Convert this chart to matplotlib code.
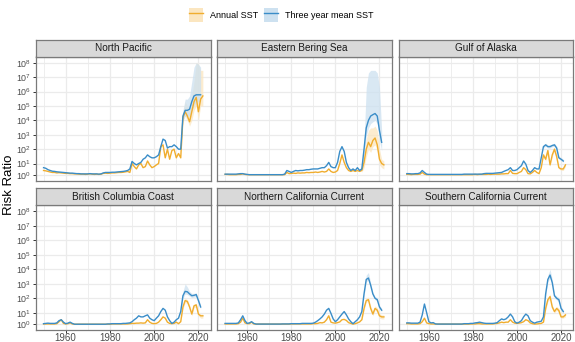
import numpy as np
import matplotlib
matplotlib.use("Agg")
import matplotlib.pyplot as plt
from matplotlib.patches import Rectangle
from matplotlib.lines import Line2D
from matplotlib.legend_handler import HandlerTuple

plt.rcParams['font.family'] = ['Liberation Sans', 'DejaVu Sans']
plt.rcParams['mathtext.fontset'] = 'custom'
plt.rcParams['mathtext.rm'] = 'Liberation Sans'
plt.rcParams['mathtext.it'] = 'Liberation Sans:italic'
plt.rcParams['mathtext.bf'] = 'Liberation Sans:bold'

# ---------------- data ----------------
regions = ["North Pacific", "Eastern Bering Sea", "Gulf of Alaska",
           "British Columbia Coast", "Northern California Current",
           "Southern California Current"]
series_names = ["Annual SST", "Three year mean SST"]
annual_years = np.arange(1950, 2023)
mean_years = np.arange(1950, 2022)
ribbon_years_annual = np.arange(2012, 2023)
ribbon_years_mean = np.arange(2012, 2022)

np_annual = [3.0, 2.8, 2.5, 2.2, 2.0, 2.0, 1.8, 1.9, 1.8, 1.7,
             1.6, 1.6, 1.5, 1.5, 1.4, 1.4, 1.3, 1.3, 1.3, 1.2,
             1.3, 1.4, 1.3, 1.2, 1.3, 1.2, 1.3, 1.6, 1.7, 1.6,
             1.7, 1.8, 1.8, 1.9, 2.0, 2.0, 2.1, 2.3, 2.5, 2.0,
             10, 6, 4, 8, 10, 5, 6, 15, 8, 5,
             6, 8, 10, 150, 200, 25, 100, 20, 80, 100,
             25, 50, 25, 1.5e4, 4e4, 2e4, 8e3, 4e4, 2e5, 4e5,
             4e4, 3e5, 5e5]
np_mean = [5, 4.5, 3.5, 3.0, 2.6, 2.5, 2.3, 2.2, 2.1, 2.0,
           1.9, 1.8, 1.7, 1.7, 1.6, 1.5, 1.5, 1.4, 1.4, 1.4,
           1.4, 1.5, 1.4, 1.4, 1.4, 1.3, 1.4, 1.8, 2.0, 2.0,
           2.0, 2.1, 2.1, 2.2, 2.3, 2.4, 2.5, 2.7, 3.0, 4.0,
           14, 10, 8, 10, 12, 20, 25, 40, 30, 25,
           25, 30, 40, 150, 500, 400, 120, 150, 150, 200,
           150, 100, 100, 2e4, 5e4, 5e4, 6e4, 2e5, 5e5, 6e5,
           6e5, 6e5]
np_annual_lo = [20, 1e4, 2e4, 1e4, 4e3, 1e4, 5e4, 1e5, 1e4, 1e5, 1e5]
np_annual_hi = [30, 3e4, 2e5, 1e5, 5e4, 5e5, 5e6, 1e8, 8e7, 3e7, 3e7]
np_mean_lo = [80, 1e4, 2e4, 2e4, 2e4, 5e4, 1e5, 2e5, 2e5, 2e5]
np_mean_hi = [150, 5e4, 3e5, 3e5, 5e5, 5e6, 5e7, 1e8, 8e7, 5e7]

ebs_annual = [1.2, 1.2, 1.1, 1.1, 1.1, 1.1, 1.2, 1.2, 1.4, 1.2,
              1.1, 1.1, 1.1, 1.1, 1.1, 1.1, 1.1, 1.1, 1.1, 1.1,
              1.1, 1.1, 1.1, 1.1, 1.1, 1.1, 1.1, 1.1, 2.0, 1.5,
              1.6, 1.7, 1.6, 1.8, 1.7, 1.8, 1.8, 2.0, 1.9, 2.0,
              2.0, 2.2, 2.0, 2.2, 2.5, 2.2, 2.5, 4.0, 2.5, 2.0,
              2.2, 3.0, 10, 40, 12, 5, 3, 2.5, 3, 2.5,
              3, 2.5, 3, 12, 100, 300, 150, 400, 600, 200,
              20, 10, 8]
ebs_mean = [1.3, 1.3, 1.3, 1.3, 1.3, 1.3, 1.4, 1.5, 1.5, 1.3,
            1.2, 1.1, 1.1, 1.1, 1.1, 1.1, 1.1, 1.1, 1.1, 1.1,
            1.1, 1.1, 1.1, 1.1, 1.1, 1.1, 1.1, 1.3, 3.0, 2.5,
            2.0, 2.5, 3.0, 2.8, 3.0, 3.0, 3.2, 3.5, 3.5, 3.8,
            4.0, 4.0, 4.0, 4.5, 5.0, 5.0, 7.0, 12, 6, 5.0,
            5.0, 12, 70, 150, 70, 12, 5, 3, 4, 3,
            5, 3, 4, 100, 3000, 1e4, 2e4, 2.5e4, 3e4, 2e4,
            2000, 300]
ebs_annual_lo = [2, 5, 30, 100, 60, 150, 200, 80, 8, 5, 4]
ebs_annual_hi = [4, 30, 500, 2000, 3000, 3000, 4000, 2000, 100, 20, 15]
ebs_mean_lo = [3, 40, 800, 3000, 6000, 8000, 1e4, 6000, 400, 80]
ebs_mean_hi = [6, 300, 2e6, 2e7, 3e7, 3e7, 3e7, 2e7, 2e6, 2000]

goa_annual = [1.2, 1.2, 1.1, 1.2, 1.2, 1.2, 1.3, 2.0, 1.3, 1.1,
              1.1, 1.1, 1.1, 1.1, 1.1, 1.1, 1.1, 1.1, 1.1, 1.1,
              1.1, 1.1, 1.1, 1.1, 1.1, 1.1, 1.1, 1.1, 1.1, 1.1,
              1.1, 1.2, 1.1, 1.2, 1.2, 1.2, 1.2, 1.3, 1.2, 1.3,
              1.3, 1.3, 1.3, 1.4, 1.4, 1.5, 1.5, 3.0, 1.6, 1.5,
              1.5, 2.0, 2.5, 5.0, 3.5, 1.5, 1.4, 2.0, 3.0, 2.0,
              1.5, 5.0, 40, 20, 80, 8, 40, 100, 30, 5,
              4, 4, 8]
goa_mean = [1.5, 1.5, 1.4, 1.4, 1.5, 1.5, 1.8, 3.0, 2.0, 1.3,
            1.2, 1.2, 1.2, 1.2, 1.2, 1.2, 1.2, 1.2, 1.2, 1.2,
            1.2, 1.2, 1.2, 1.2, 1.2, 1.2, 1.3, 1.3, 1.3, 1.3,
            1.3, 1.3, 1.3, 1.3, 1.3, 1.5, 1.6, 1.6, 1.6, 1.6,
            1.7, 1.8, 1.9, 2.0, 2.5, 3.0, 3.5, 5.0, 3.0, 3.0,
            3.5, 5.0, 7.0, 15, 9, 3.0, 2.0, 3.0, 5.0, 4.0,
            4.0, 25, 150, 200, 150, 150, 180, 200, 120, 25,
            20, 15]
goa_annual_lo = [30, 15, 60, 6, 30, 80, 20, 4, 3, 3, 6]
goa_annual_hi = [50, 25, 100, 10, 50, 150, 40, 6, 5, 5, 10]
goa_mean_lo = [120, 160, 120, 120, 150, 160, 100, 20, 16, 12]
goa_mean_hi = [200, 260, 200, 200, 230, 260, 160, 32, 26, 20]

bcc_annual = [1.1, 1.1, 1.1, 1.1, 1.1, 1.1, 1.2, 2.0, 3.0, 1.3,
              1.1, 1.2, 1.5, 1.1, 1.0, 1.0, 1.0, 1.0, 1.0, 1.0,
              1.0, 1.0, 1.0, 1.0, 1.0, 1.0, 1.0, 1.0, 1.0, 1.0,
              1.0, 1.1, 1.1, 1.1, 1.1, 1.1, 1.1, 1.1, 1.1, 1.2,
              1.3, 1.3, 1.4, 1.4, 1.5, 1.4, 1.5, 3.0, 1.8, 1.3,
              1.2, 1.3, 1.8, 3.0, 5.0, 4.0, 1.8, 1.3, 1.2, 1.3,
              1.8, 1.2, 2.0, 25, 70, 60, 25, 8, 30, 35,
              8, 6, 6]
bcc_mean = [1.2, 1.3, 1.4, 1.3, 1.3, 1.3, 1.5, 2.5, 3.0, 1.8,
            1.2, 1.4, 1.8, 1.3, 1.0, 1.0, 1.0, 1.0, 1.0, 1.0,
            1.0, 1.0, 1.0, 1.0, 1.0, 1.0, 1.0, 1.0, 1.0, 1.1,
            1.1, 1.2, 1.2, 1.2, 1.2, 1.2, 1.3, 1.3, 1.4, 1.5,
            2.0, 3.0, 4.0, 6.0, 5.0, 5.0, 6.0, 7.0, 4.0, 3.0,
            2.5, 4.0, 6.0, 12, 20, 15, 5, 2.5, 1.3, 1.8,
            3.0, 4.0, 12, 150, 300, 280, 200, 150, 160, 180,
            70, 25]
bcc_annual_lo = [1.8, 18, 50, 45, 18, 6, 22, 25, 6, 4, 4]
bcc_annual_hi = [2.2, 35, 100, 80, 35, 10, 40, 45, 10, 8, 8]
bcc_mean_lo = [10, 100, 200, 180, 140, 110, 120, 130, 50, 18]
bcc_mean_hi = [15, 300, 1000, 600, 300, 220, 220, 240, 100, 35]

ncc_annual = [1.1, 1.1, 1.1, 1.1, 1.1, 1.1, 1.2, 1.8, 4.0, 1.5,
              1.2, 1.2, 1.8, 1.1, 1.05, 1.05, 1.05, 1.05, 1.05, 1.05,
              1.05, 1.05, 1.05, 1.05, 1.05, 1.05, 1.05, 1.05, 1.05, 1.05,
              1.1, 1.1, 1.1, 1.1, 1.1, 1.1, 1.1, 1.1, 1.1, 1.1,
              1.2, 1.2, 1.3, 1.6, 1.5, 1.8, 3.0, 6.0, 1.8, 1.5,
              1.4, 1.6, 1.9, 3.0, 3.2, 2.6, 1.6, 1.3, 1.05, 1.2,
              1.5, 1.9, 3.0, 20, 70, 80, 20, 8, 20, 15,
              6, 5, 5]
ncc_mean = [1.3, 1.3, 1.3, 1.3, 1.3, 1.3, 1.5, 3.0, 6.0, 2.5,
            1.3, 1.5, 2.0, 1.3, 1.05, 1.05, 1.05, 1.05, 1.05, 1.05,
            1.05, 1.05, 1.05, 1.05, 1.05, 1.05, 1.1, 1.1, 1.1, 1.1,
            1.2, 1.2, 1.2, 1.2, 1.2, 1.3, 1.3, 1.3, 1.3, 1.3,
            1.4, 1.8, 2.5, 3.5, 5.0, 8.0, 15, 20, 9, 3.5,
            2.0, 3.0, 5.0, 8.0, 12, 7.0, 3.5, 2.0, 1.2, 2.0,
            3.0, 5.0, 12, 200, 2000, 2500, 800, 200, 100, 80,
            25, 15]
ncc_annual_lo = [2.5, 15, 55, 60, 15, 6, 15, 11, 4, 3.5, 3.5]
ncc_annual_hi = [3.5, 30, 100, 120, 30, 11, 30, 22, 9, 7, 7]
ncc_mean_lo = [10, 150, 1400, 1800, 600, 160, 80, 60, 20, 12]
ncc_mean_hi = [16, 300, 4000, 6000, 1200, 260, 130, 110, 33, 20]

scc_annual = [1.2, 1.2, 1.1, 1.1, 1.1, 1.1, 1.2, 2.0, 4.0, 1.5,
              1.2, 1.1, 1.1, 1.05, 1.05, 1.05, 1.05, 1.05, 1.05, 1.05,
              1.05, 1.05, 1.05, 1.05, 1.05, 1.05, 1.05, 1.05, 1.05, 1.1,
              1.1, 1.1, 1.2, 1.2, 1.1, 1.1, 1.1, 1.1, 1.1, 1.1,
              1.2, 1.3, 1.5, 1.8, 1.6, 1.8, 1.8, 3.0, 1.8, 1.4,
              1.3, 1.4, 1.6, 2.0, 3.0, 2.5, 1.5, 1.2, 1.05, 1.1,
              1.2, 1.3, 1.8, 20, 80, 130, 25, 12, 20, 14,
              5, 5, 7]
scc_mean = [1.5, 1.5, 1.4, 1.4, 1.4, 1.4, 1.8, 7.0, 40, 10,
            2.0, 1.5, 1.6, 1.1, 1.05, 1.05, 1.05, 1.05, 1.05, 1.05,
            1.05, 1.05, 1.05, 1.05, 1.05, 1.05, 1.2, 1.2, 1.2, 1.3,
            1.3, 1.5, 1.6, 1.8, 1.6, 1.4, 1.3, 1.3, 1.3, 1.3,
            1.4, 1.6, 2.5, 3.5, 3.0, 3.5, 5.0, 8.0, 5.0, 2.0,
            1.4, 1.8, 2.5, 5.0, 8.0, 6.0, 2.5, 1.8, 1.4, 1.8,
            2.0, 2.2, 5.0, 200, 2000, 4000, 1200, 150, 100, 80,
            20, 12]
scc_annual_lo = [1.5, 15, 60, 90, 18, 9, 15, 10, 4, 4, 5]
scc_annual_hi = [2.2, 30, 110, 200, 35, 16, 28, 20, 7, 7, 10]
scc_mean_lo = [4, 140, 1400, 2500, 900, 110, 75, 60, 15, 9]
scc_mean_hi = [6, 300, 4000, 1e4, 2000, 200, 140, 110, 28, 16]

annual_data = [np_annual, ebs_annual, goa_annual, bcc_annual, ncc_annual, scc_annual]
mean_data = [np_mean, ebs_mean, goa_mean, bcc_mean, ncc_mean, scc_mean]
annual_lo = [np_annual_lo, ebs_annual_lo, goa_annual_lo, bcc_annual_lo, ncc_annual_lo, scc_annual_lo]
annual_hi = [np_annual_hi, ebs_annual_hi, goa_annual_hi, bcc_annual_hi, ncc_annual_hi, scc_annual_hi]
mean_lo = [np_mean_lo, ebs_mean_lo, goa_mean_lo, bcc_mean_lo, ncc_mean_lo, scc_mean_lo]
mean_hi = [np_mean_hi, ebs_mean_hi, goa_mean_hi, bcc_mean_hi, ncc_mean_hi, scc_mean_hi]

x_breaks = [1960, 1980, 2000, 2020]
x_minor = [1950, 1970, 1990, 2010]
y_exponents = [0, 1, 2, 3, 4, 5, 6, 7, 8]

# ---------------- style ----------------
orange = "#F0AD2E"
blue = "#3A8DC8"
orange_fill = "#FBE6C0"
blue_fill = "#CDE1F0"
W, H = 575, 342
fig = plt.figure(figsize=(W / 100, H / 100), dpi=100)


def fwd(x):
    return np.arcsinh(np.asarray(x, dtype=float) / 2.0) / np.log(10)


def inv(t):
    return 2.0 * np.sinh(np.asarray(t, dtype=float) * np.log(10))


col_l = [35.7, 217.3, 399.0]
col_r = [210.7, 391.7, 573.3]
row_top = [56.5, 205.0]
row_bot = [180.7, 330.0]
strip_h = 17.0

for i, name in enumerate(regions):
    r, c = divmod(i, 3)
    l, rr = col_l[c], col_r[c]
    t, b = row_top[r], row_bot[r]
    ax = fig.add_axes([l / W, 1 - b / H, (rr - l) / W, (b - t) / H])
    ax.set_yscale('function', functions=(fwd, inv))
    ax.set_xlim(1946.45, 2025.55)
    ax.set_ylim(inv(-0.19), inv(8.44))
    ax.set_facecolor('white')
    ax.set_xticks(x_breaks)
    ax.set_xticks(x_minor, minor=True)
    ax.set_yticks([10.0 ** e for e in y_exponents])
    ax.set_yticks([], minor=True)
    ax.grid(True, which='major', color='#EBEBEB', lw=0.9)
    ax.grid(True, which='minor', axis='x', color='#EBEBEB', lw=0.6)
    ax.set_axisbelow(True)
    for s in ax.spines.values():
        s.set_color('#7A7A7A')
        s.set_linewidth(0.9)
    ax.tick_params(which='minor', length=0)
    ax.tick_params(which='major', length=2.0, width=0.7, color='#333333',
                   labelsize=6.4, labelcolor='#4D4D4D', pad=1.0)
    if c == 0:
        ax.set_yticklabels([f'$10^{{{e}}}$' for e in y_exponents])
    else:
        ax.tick_params(axis='y', which='major', length=0, labelleft=False)
    if r == 1:
        ax.set_xticklabels([str(v) for v in x_breaks])
        ax.tick_params(axis='x', labelsize=7.0, pad=0.2)
    else:
        ax.tick_params(axis='x', which='major', length=0, labelbottom=False)

    ax.fill_between(ribbon_years_annual, annual_lo[i], annual_hi[i],
                    color=orange_fill, alpha=0.75, lw=0)
    ax.fill_between(ribbon_years_mean, mean_lo[i], mean_hi[i],
                    color=blue_fill, alpha=0.75, lw=0)
    ax.plot(annual_years, annual_data[i], color=orange, lw=1.0)
    ax.plot(mean_years, mean_data[i], color=blue, lw=1.0)

    sax = fig.add_axes([l / W, 1 - t / H, (rr - l) / W, strip_h / H])
    sax.set_facecolor('#D9D9D9')
    sax.set_xticks([])
    sax.set_yticks([])
    for s in sax.spines.values():
        s.set_color('#7A7A7A')
        s.set_linewidth(0.9)
    sax.text(0.5, 0.48, name, ha='center', va='center', fontsize=7.2,
             color='#1A1A1A', transform=sax.transAxes)

fig.text(9 / W, 1 - 185 / H, 'Risk Ratio', rotation=90, ha='center',
         va='center', fontsize=9.5, color='black')

# legend
handles = []
for col, fc in [(orange, orange_fill), (blue, blue_fill)]:
    handles.append((Rectangle((0, 0), 1, 1, facecolor=fc, edgecolor='none'),
                    Line2D([], [], color=col, lw=1.0)))
leg = fig.legend(handles, series_names, loc='center', ncol=2,
                 bbox_to_anchor=(281 / W, 1 - 15 / H), frameon=False,
                 fontsize=6.5, handler_map={tuple: HandlerTuple(ndivide=1)},
                 handlelength=1.6, handleheight=1.9, columnspacing=0.7,
                 handletextpad=0.7)

fig.savefig('out.png', dpi=100)
